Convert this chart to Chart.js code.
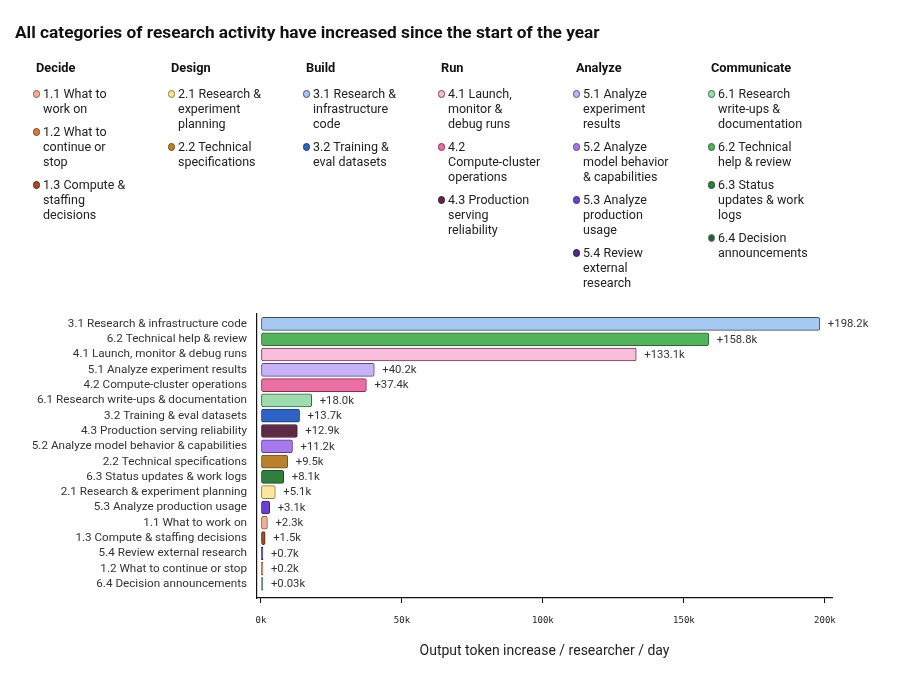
<!DOCTYPE html>
<html>
<head>
<meta charset="utf-8">
<script src="https://cdn.jsdelivr.net/npm/chart.js@4.4.1/dist/chart.umd.min.js"></script>
<style>
body{margin:0;background:#fff;font-family:Roboto,sans-serif;color:#1a1a1a}
#wrap{position:relative;width:899px;height:684px;overflow:hidden}
#c{position:absolute;left:0;top:0}
h1{position:absolute;left:15px;top:21px;margin:0;font-size:17.3px;font-weight:700;line-height:22px;color:#111;z-index:2}
.col{position:absolute;top:59px;width:130px;z-index:2}
.col h2{margin:0 0 10px 0;font-size:12.8px;font-weight:700;line-height:17px;color:#111}
.item{position:relative;padding-left:7px;font-size:12.5px;line-height:15px;margin-bottom:8px;color:#222}
.dot{position:absolute;left:-3.5px;top:4px;width:5.5px;height:5.5px;border-radius:50%;border:1px solid}
</style>
</head>
<body>
<div id="wrap">
<canvas id="c" width="899" height="684"></canvas>
<h1>All categories of research activity have increased since the start of the year</h1>
<div id="legend"></div>
</div>
<script>
// bars, top to bottom
var categories = [
  "3.1 Research & infrastructure code",
  "6.2 Technical help & review",
  "4.1 Launch, monitor & debug runs",
  "5.1 Analyze experiment results",
  "4.2 Compute-cluster operations",
  "6.1 Research write-ups & documentation",
  "3.2 Training & eval datasets",
  "4.3 Production serving reliability",
  "5.2 Analyze model behavior & capabilities",
  "2.2 Technical specifications",
  "6.3 Status updates & work logs",
  "2.1 Research & experiment planning",
  "5.3 Analyze production usage",
  "1.1 What to work on",
  "1.3 Compute & staffing decisions",
  "5.4 Review external research",
  "1.2 What to continue or stop",
  "6.4 Decision announcements"
];
// thousands of output tokens
var values = [198.2, 158.8, 133.1, 40.2, 37.4, 18.0, 13.7, 12.9, 11.2, 9.5, 8.1, 5.1, 3.1, 2.3, 1.5, 0.7, 0.2, 0.03];
var xTicks = [0, 50, 100, 150, 200];

var codes = ["3.1","6.2","4.1","5.1","4.2","6.1","3.2","4.3","5.2","2.2","6.3","2.1","5.3","1.1","1.3","5.4","1.2","6.4"];
var fillColors = {
  "1.1":"#efb195","1.2":"#d97a3c","1.3":"#a14f22",
  "2.1":"#fde69c","2.2":"#b9812c",
  "3.1":"#a6c9f4","3.2":"#2e63c6",
  "4.1":"#f8bdd8","4.2":"#ec6fa3","4.3":"#5f2a45",
  "5.1":"#c7b1f5","5.2":"#a879ee","5.3":"#6b3fd4","5.4":"#4d2b8b",
  "6.1":"#9fdcad","6.2":"#52b45b","6.3":"#2f7f3f","6.4":"#2a5b3b"
};
var edgeColors = {
  "1.1":"#8a5a42","1.2":"#7a4020","1.3":"#5a2a10",
  "2.1":"#8f7b3e","2.2":"#74511a",
  "3.1":"#3c4f68","3.2":"#1b3b7c",
  "4.1":"#6b3b52","4.2":"#8a2a55","4.3":"#3a1528",
  "5.1":"#5a4a8c","5.2":"#5a3a9c","5.3":"#3a2082","5.4":"#2a1552",
  "6.1":"#2f6b3f","6.2":"#2c6a33","6.3":"#1a4a25","6.4":"#5f7d6c"
};

var legendGroups = [
  {name:"Decide", items:[["1.1","1.1 What to","work on"],["1.2","1.2 What to","continue or","stop"],["1.3","1.3 Compute &","staffing","decisions"]]},
  {name:"Design", items:[["2.1","2.1 Research &","experiment","planning"],["2.2","2.2 Technical","specifications"]]},
  {name:"Build", items:[["3.1","3.1 Research &","infrastructure","code"],["3.2","3.2 Training &","eval datasets"]]},
  {name:"Run", items:[["4.1","4.1 Launch,","monitor &","debug runs"],["4.2","4.2","Compute-cluster","operations"],["4.3","4.3 Production","serving","reliability"]]},
  {name:"Analyze", items:[["5.1","5.1 Analyze","experiment","results"],["5.2","5.2 Analyze","model behavior","& capabilities"],["5.3","5.3 Analyze","production","usage"],["5.4","5.4 Review","external","research"]]},
  {name:"Communicate", items:[["6.1","6.1 Research","write-ups &","documentation"],["6.2","6.2 Technical","help & review"],["6.3","6.3 Status","updates & work","logs"],["6.4","6.4 Decision","announcements"]]}
];

var legendEl = document.getElementById('legend');
legendGroups.forEach(function(g, gi){
  var col = document.createElement('div');
  col.className = 'col';
  col.style.left = (36 + gi * 135) + 'px';
  var h = document.createElement('h2');
  h.textContent = g.name;
  col.appendChild(h);
  g.items.forEach(function(it){
    var d = document.createElement('div');
    d.className = 'item';
    var dot = document.createElement('span');
    dot.className = 'dot';
    dot.style.background = fillColors[it[0]];
    dot.style.borderColor = edgeColors[it[0]];
    d.appendChild(dot);
    for (var k = 1; k < it.length; k++) {
      if (k > 1) d.appendChild(document.createElement('br'));
      d.appendChild(document.createTextNode(it[k]));
    }
    col.appendChild(d);
  });
  legendEl.appendChild(col);
});

function fmt(v) {
  return '+' + (v < 0.1 ? v.toFixed(2) : v.toFixed(1)) + 'k';
}

var barLabels = {
  id: 'barLabels',
  afterDatasetsDraw: function(chart) {
    var ctx = chart.ctx;
    var meta = chart.getDatasetMeta(0);
    ctx.save();
    ctx.font = '11.3px Roboto';
    ctx.fillStyle = '#333';
    ctx.textBaseline = 'middle';
    meta.data.forEach(function(bar, i){
      ctx.fillText(fmt(values[i]), bar.x + 8, bar.y + 0.5);
    });
    ctx.restore();
  }
};

var chart = new Chart(document.getElementById('c'), {
  type: 'bar',
  data: {
    datasets: [{
      data: values.map(function(v, i){ return {x: v, y: i}; }),
      backgroundColor: codes.map(function(c){ return fillColors[c]; }),
      borderColor: codes.map(function(c){ return edgeColors[c]; }),
      borderWidth: 1,
      borderRadius: 2,
      borderSkipped: false,
      barThickness: 13,
      minBarLength: 2
    }]
  },
  options: {
    indexAxis: 'y',
    responsive: false,
    animation: false,
    layout: {padding: {top: 314, right: 67, bottom: 0, left: 0}},
    plugins: {legend: {display: false}, tooltip: {enabled: false}},
    scales: {
      y: {
        type: 'linear',
        offset: false,
        reverse: true,
        min: -0.65,
        max: 17.92,
        afterBuildTicks: function(s){ s.ticks = categories.map(function(c, i){ return {value: i}; }); },
        afterFit: function(s){ s.width = 257; },
        grid: {display: false, offset: false},
        border: {display: true, color: '#111', width: 1.2},
        ticks: {
          autoSkip: false,
          padding: 2,
          color: '#333',
          font: {family: 'Roboto', size: 11.7},
          callback: function(v){ return categories[v]; }
        }
      },
      x: {
        type: 'linear',
        min: -1.4,
        max: 202.5,
        afterBuildTicks: function(s){ s.ticks = xTicks.map(function(v){ return {value: v}; }); },
        afterFit: function(s){ s.height = 86; },
        grid: {drawOnChartArea: false, drawTicks: true, tickLength: 5, color: '#111'},
        border: {display: true, color: '#111', width: 1.2},
        ticks: {
          maxRotation: 0,
          padding: 12,
          color: '#222',
          font: {family: 'DejaVu Sans Mono', size: 9},
          callback: function(v){ return v + 'k'; }
        },
        title: {
          display: true,
          text: 'Output token increase / researcher / day',
          color: '#222',
          font: {family: 'Roboto', size: 14},
          padding: {top: 4, bottom: 24}
        }
      }
    }
  },
  plugins: [barLabels]
});
</script>
</body>
</html>
